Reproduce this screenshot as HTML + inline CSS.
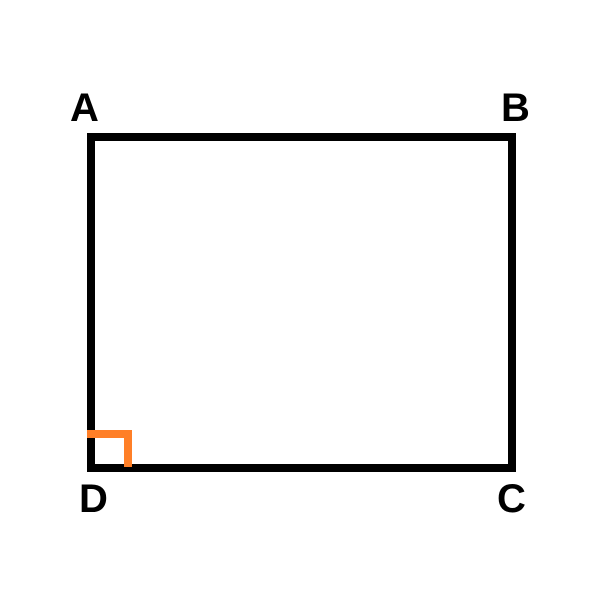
<!DOCTYPE html>
<html><head><meta charset="utf-8"><style>
body{margin:0;background:#fff;width:600px;height:600px;overflow:hidden}
text{font-family:"Liberation Sans",sans-serif;font-weight:bold;font-size:40px;fill:#000}
</style></head><body>
<svg width="600" height="600">
<rect x="91" y="137" width="421" height="331" fill="none" stroke="#000" stroke-width="8"/>
<polyline points="87,434 128,434 128,467" fill="none" stroke="#ff7f27" stroke-width="8"/>
<text x="70" y="121">A</text>
<text x="501" y="121">B</text>
<text x="497" y="512">C</text>
<text x="79" y="512">D</text>
</svg>
</body></html>
